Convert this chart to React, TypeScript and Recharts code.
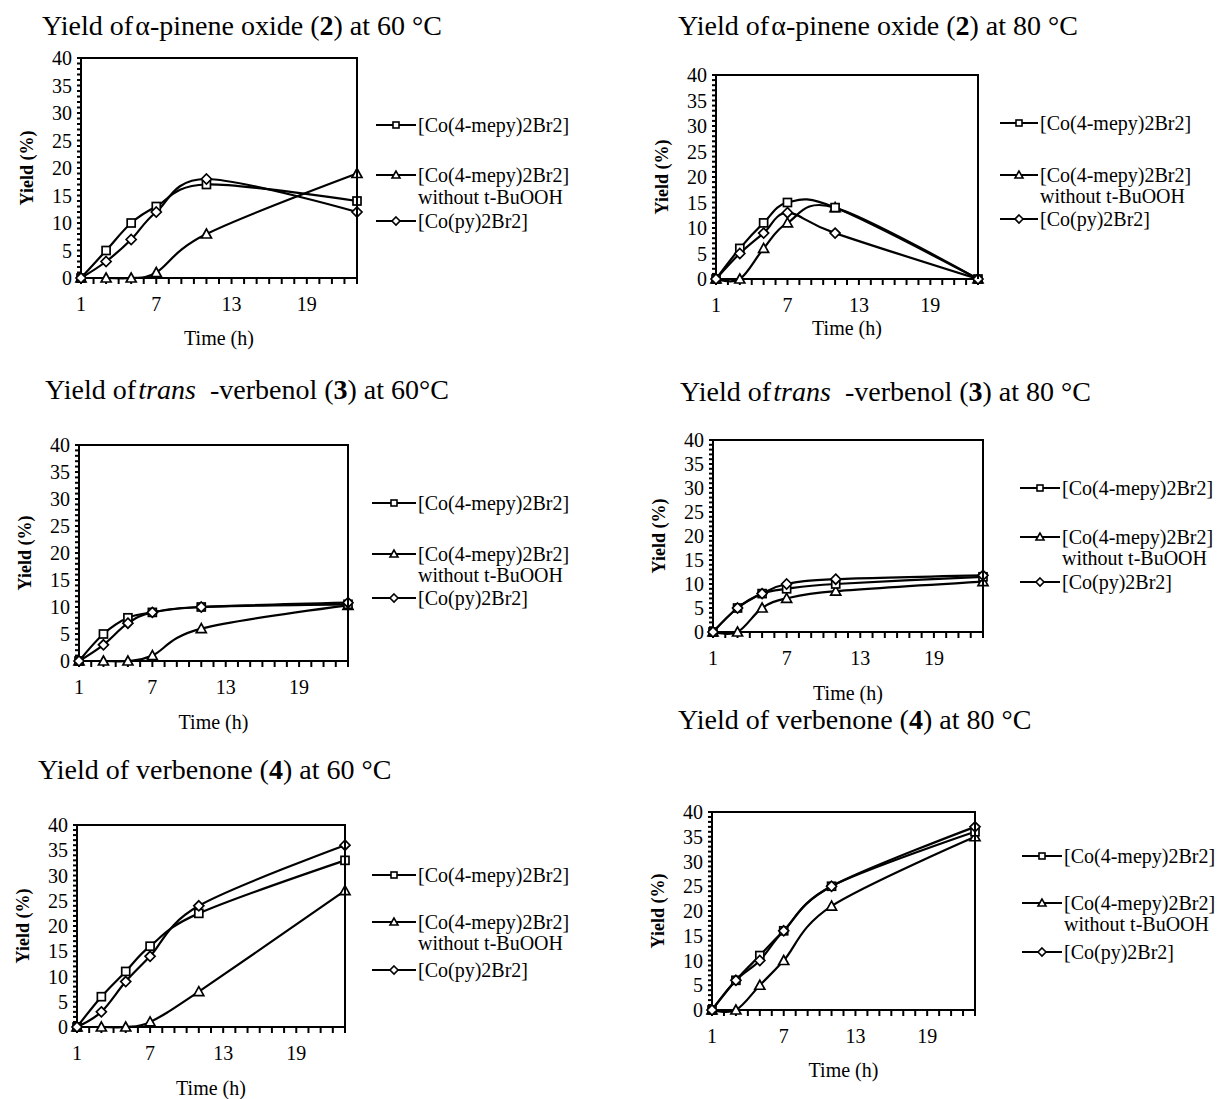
import React from 'react';
import { LineChart, Line, XAxis, YAxis } from 'recharts';

// sampling times (h)
const hours = [1, 3, 5, 7, 11, 23];
const xTicks = [1, 2, 3, 4, 5, 6, 7, 8, 9, 10, 11, 12, 13, 14, 15, 16, 17, 18, 19, 20, 21, 22, 23];
const xLabelTicks = [1, 7, 13, 19];
const yTicks = [
  0, 1, 2, 3, 4, 5, 6, 7, 8, 9, 10, 11, 12, 13, 14, 15, 16, 17, 18, 19, 20,
  21, 22, 23, 24, 25, 26, 27, 28, 29, 30, 31, 32, 33, 34, 35, 36, 37, 38, 39, 40,
];
const yLabelTicks = [0, 5, 10, 15, 20, 25, 30, 35, 40];

const legendLabels = ['[Co(4-mepy)2Br2]', '[Co(4-mepy)2Br2]', 'without t-BuOOH', '[Co(py)2Br2]'];

// alpha-pinene oxide (2)
const oxide60Mepy = [0, 5, 10, 13, 17, 14];
const oxide60NoOx = [0, 0, 0, 1, 8, 19];
const oxide60Py = [0, 3, 7, 12, 18, 12];
const oxide80Mepy = [0, 6, 11, 15, 14, 0];
const oxide80NoOx = [0, 0, 6, 11, 14, 0];
const oxide80Py = [0, 5, 9, 13, 9, 0];

// trans-verbenol (3)
const verbenol60Mepy = [0, 5, 8, 9, 10, 10.5];
const verbenol60NoOx = [0, 0, 0, 1, 6, 10.3];
const verbenol60Py = [0, 3, 7, 9, 10, 10.8];
const verbenol80Mepy = [0, 5, 8, 9, 10, 11.5];
const verbenol80NoOx = [0, 0, 5, 7, 8.5, 10.5];
const verbenol80Py = [0, 5, 8, 10, 11, 11.8];

// verbenone (4)
const verbenone60Mepy = [0, 6, 11, 16, 22.5, 33];
const verbenone60NoOx = [0, 0, 0, 1, 7, 27];
const verbenone60Py = [0, 3, 9, 14, 24, 36];
const verbenone80Mepy = [0, 6, 11, 16, 25, 36];
const verbenone80NoOx = [0, 0, 5, 10, 21, 35];
const verbenone80Py = [0, 6, 10, 16, 25, 37];

const FONT = "'Liberation Serif', 'Times New Roman', serif";

// Excel-like smoothed line (Catmull-Rom / cardinal with tension 0)
function smooth(context: any) {
  let x0 = NaN, y0 = NaN, x1 = NaN, y1 = NaN, x2 = NaN, y2 = NaN;
  let n = 0;
  let line = NaN;
  const k = 1 / 6;
  const seg = (x: number, y: number) =>
    context.bezierCurveTo(x1 + k * (x2 - x0), y1 + k * (y2 - y0), x2 + k * (x1 - x), y2 + k * (y1 - y), x2, y2);
  return {
    areaStart() { line = 0; },
    areaEnd() { line = NaN; },
    lineStart() { x0 = x1 = x2 = y0 = y1 = y2 = NaN; n = 0; },
    lineEnd() {
      if (n === 2) context.lineTo(x2, y2);
      else if (n === 3) seg(x1, y1);
      if (line || (line !== 0 && n === 1)) context.closePath();
      line = 1 - line;
    },
    point(x: number, y: number) {
      x = +x; y = +y;
      if (n === 0) {
        n = 1;
        if (line) context.lineTo(x, y); else context.moveTo(x, y);
      } else if (n === 1) {
        n = 2; x1 = x; y1 = y;
      } else {
        n = 3; seg(x, y);
      }
      x0 = x1; x1 = x2; x2 = x;
      y0 = y1; y1 = y2; y2 = y;
    },
  };
}

const squareDot = (p: any) =>
  p.cx == null ? null : (
    <rect key={p.key} x={p.cx - 4} y={p.cy - 4} width={8} height={8} fill="#fff" stroke="#000" strokeWidth={1.7} />
  );
const triangleDot = (p: any) =>
  p.cx == null ? null : (
    <polygon key={p.key} points={`${p.cx},${p.cy - 5} ${p.cx - 5},${p.cy + 4} ${p.cx + 5},${p.cy + 4}`} fill="#fff" stroke="#000" strokeWidth={1.7} />
  );
const diamondDot = (p: any) =>
  p.cx == null ? null : (
    <polygon key={p.key} points={`${p.cx},${p.cy - 5} ${p.cx + 5},${p.cy} ${p.cx},${p.cy + 5} ${p.cx - 5},${p.cy}`} fill="#fff" stroke="#000" strokeWidth={1.7} />
  );

function LegendMark({ kind, width }: { kind: string; width: number }) {
  const c = width / 2;
  return (
    <svg width={width} height={12} style={{ display: 'block' }}>
      <line x1={0} y1={6} x2={width} y2={6} stroke="#000" strokeWidth={2} />
      {kind === 'sq' && <rect x={c - 3} y={3} width={6} height={6} fill="#fff" stroke="#000" strokeWidth={1.6} />}
      {kind === 'tri' && <polygon points={`${c},2 ${c - 4},9 ${c + 4},9`} fill="#fff" stroke="#000" strokeWidth={1.6} />}
      {kind === 'dia' && <polygon points={`${c},2 ${c + 4},6 ${c},10 ${c - 4},6`} fill="#fff" stroke="#000" strokeWidth={1.6} />}
    </svg>
  );
}

interface PanelProps {
  title: React.ReactNode;
  titleX: number;
  titleY: number;
  l: number; t: number; r: number; b: number;
  mepy: number[];
  noOx: number[];
  py: number[];
  lineX: number;
  textX: number;
  rows: number[]; // square, triangle, "without", diamond
  timeDy: number;
}

function Panel(props: PanelProps) {
  const { title, titleX, titleY, l, t, r, b, mepy, noOx, py, lineX, textX, rows, timeDy } = props;
  const data = hours.map((h, i) => ({ h, mepy: mepy[i], noOx: noOx[i], py: py[i] }));
  const width = r - l + 80;
  const height = b - t + 50;
  const text = { fontFamily: FONT, color: '#000', position: 'absolute' as const, whiteSpace: 'nowrap' as const };
  const marks = ['sq', 'tri', '', 'dia'];

  return (
    <>
      <div style={{ ...text, left: titleX, top: titleY - 16, fontSize: 28, lineHeight: '32px' }}>{title}</div>
      <LineChart
        width={width}
        height={height}
        data={data}
        margin={{ top: 10, right: 10, left: 0, bottom: 0 }}
        style={{ position: 'absolute', left: l - 70, top: t - 10 }}
      >
        <XAxis
          dataKey="h"
          type="number"
          domain={[1, 23]}
          ticks={xTicks}
          interval={0}
          tickFormatter={(v: number) => (xLabelTicks.includes(v) ? String(v) : '')}
          height={40}
          stroke="#000"
          strokeWidth={2}
          tickSize={6}
          tickMargin={13}
          tick={{ fontSize: 20, fill: '#000', fontFamily: FONT }}
        />
        <YAxis
          type="number"
          domain={[0, 40]}
          ticks={yTicks}
          interval={0}
          tickFormatter={(v: number) => (yLabelTicks.includes(v) ? String(v) : '')}
          width={70}
          stroke="#000"
          strokeWidth={2}
          tickSize={4}
          tickMargin={5}
          tick={{ fontSize: 20, fill: '#000', fontFamily: FONT }}
        />
        <Line dataKey="noOx" type={smooth as any} stroke="#000" strokeWidth={2.2} dot={triangleDot} activeDot={false} isAnimationActive={false} />
        <Line dataKey="mepy" type={smooth as any} stroke="#000" strokeWidth={2.2} dot={squareDot} activeDot={false} isAnimationActive={false} />
        <Line dataKey="py" type={smooth as any} stroke="#000" strokeWidth={2.2} dot={diamondDot} activeDot={false} isAnimationActive={false} />
      </LineChart>
      {/* top and right frame of the plot area */}
      <div
        style={{
          position: 'absolute', left: l, top: t - 1, width: r - l + 1, height: b - t + 1,
          borderTop: '2px solid #000', borderRight: '2px solid #000', boxSizing: 'border-box', pointerEvents: 'none',
        }}
      />
      <div
        style={{
          ...text, left: l - 54, top: (t + b) / 2, fontSize: 18, fontWeight: 'bold', lineHeight: '18px',
          transform: 'translate(-50%, -50%) rotate(-90deg)',
        }}
      >
        Yield (%)
      </div>
      <div style={{ ...text, left: (l + r) / 2, top: b + timeDy, fontSize: 20, lineHeight: '18px', transform: 'translate(-50%, -50%)' }}>
        Time (h)
      </div>
      {rows.map((y, i) => (
        <React.Fragment key={i}>
          {marks[i] && (
            <div style={{ position: 'absolute', left: lineX, top: y - 6 }}>
              <LegendMark kind={marks[i]} width={textX - lineX - 2} />
            </div>
          )}
          <div style={{ ...text, left: textX, top: y - 9, fontSize: 20, lineHeight: '18px' }}>{legendLabels[i]}</div>
        </React.Fragment>
      ))}
    </>
  );
}

export default function App() {
  return (
    <div style={{ position: 'absolute', left: 0, top: 0, width: 1217, height: 1099, background: '#fff', overflow: 'hidden' }}>
      <Panel
        title={<>Yield of&#8202;α-pinene oxide (<b>2</b>) at 60 °C</>}
        titleX={42} titleY={26}
        l={81} t={58} r={357} b={278}
        mepy={oxide60Mepy} noOx={oxide60NoOx} py={oxide60Py}
        lineX={376} textX={418} rows={[125, 175, 197, 221]} timeDy={60}
      />
      <Panel
        title={<>Yield of&#8202;α-pinene oxide (<b>2</b>) at 80 °C</>}
        titleX={678} titleY={26}
        l={716} t={75} r={978} b={279}
        mepy={oxide80Mepy} noOx={oxide80NoOx} py={oxide80Py}
        lineX={1000} textX={1040} rows={[123, 175, 196, 219]} timeDy={49}
      />
      <Panel
        title={<>Yield of&#8202;<i>trans</i>&nbsp; -verbenol (<b>3</b>) at 60°C</>}
        titleX={45} titleY={390}
        l={79} t={445} r={348} b={661}
        mepy={verbenol60Mepy} noOx={verbenol60NoOx} py={verbenol60Py}
        lineX={372} textX={418} rows={[503, 554, 575, 598]} timeDy={61}
      />
      <Panel
        title={<>Yield of&#8202;<i>trans</i>&nbsp; -verbenol (<b>3</b>) at 80 °C</>}
        titleX={680} titleY={392}
        l={713} t={440} r={983} b={632}
        mepy={verbenol80Mepy} noOx={verbenol80NoOx} py={verbenol80Py}
        lineX={1020} textX={1062} rows={[488, 537, 558, 582]} timeDy={61}
      />
      <Panel
        title={<>Yield of verbenone (<b>4</b>) at 60 °C</>}
        titleX={38} titleY={770}
        l={77} t={825} r={345} b={1027}
        mepy={verbenone60Mepy} noOx={verbenone60NoOx} py={verbenone60Py}
        lineX={372} textX={418} rows={[875, 922, 943, 970]} timeDy={61}
      />
      <Panel
        title={<>Yield of verbenone (<b>4</b>) at 80 °C</>}
        titleX={678} titleY={720}
        l={712} t={812} r={975} b={1010}
        mepy={verbenone80Mepy} noOx={verbenone80NoOx} py={verbenone80Py}
        lineX={1022} textX={1064} rows={[856, 903, 924, 952]} timeDy={60}
      />
    </div>
  );
}
